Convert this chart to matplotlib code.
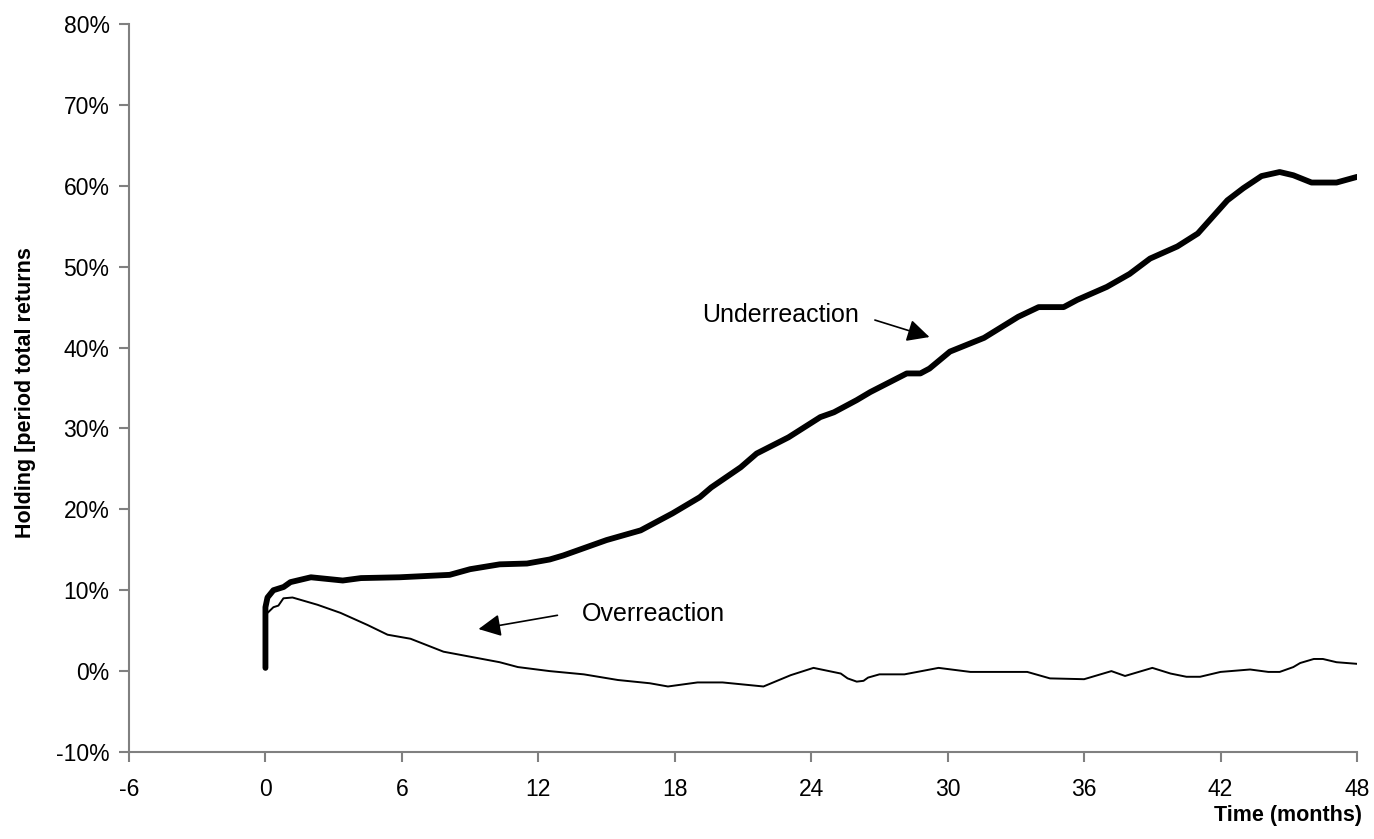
import matplotlib
matplotlib.use("Agg")
import matplotlib.pyplot as plt
import matplotlib.ticker as mticker

# --- dados (meses, retorno em %) ---
under_meses = [0.0, 0.0, 0.09, 0.35, 0.8, 1.1, 2.0, 2.7, 3.4, 4.2, 5.9, 8.1, 9.0,
               10.3, 11.5, 12.5, 13.1, 15.0, 16.5, 17.9, 19.1, 19.6, 20.9, 21.6,
               23.0, 24.4, 25.0, 26.0, 26.6, 28.2, 28.8, 29.2, 30.1, 31.6, 33.1,
               34.0, 35.1, 35.7, 37.0, 38.0, 38.9, 40.1, 41.0, 42.3, 43.0, 43.8,
               44.6, 45.2, 46.0, 47.1, 48.0]
under_ret = [0.4, 7.9, 9.1, 10.0, 10.4, 11.0, 11.6, 11.4, 11.2, 11.5, 11.6, 11.9, 12.6,
             13.2, 13.3, 13.8, 14.3, 16.2, 17.4, 19.5, 21.5, 22.7, 25.2, 26.9,
             28.9, 31.4, 32.0, 33.5, 34.5, 36.8, 36.8, 37.4, 39.5, 41.2, 43.8,
             45.0, 45.0, 45.9, 47.5, 49.1, 51.0, 52.5, 54.1, 58.2, 59.7, 61.2,
             61.7, 61.3, 60.4, 60.4, 61.1]

over_meses = [0.0, 0.0, 0.13, 0.35, 0.57, 0.79, 1.19, 2.29, 3.3, 4.49, 5.37, 6.38,
              7.83, 10.3, 11.1, 12.5, 14.0, 15.5, 16.9, 17.7, 19.0, 20.1, 21.9,
              23.1, 24.1, 25.3, 25.6, 26.0, 26.3, 26.5, 27.0, 28.1, 29.6, 31.0,
              33.5, 34.5, 36.0, 37.2, 37.8, 39.0, 39.8, 40.5, 41.1, 42.0, 43.3,
              44.1, 44.6, 45.2, 45.5, 46.1, 46.5, 47.1, 48.0]
over_ret = [0.4, 7.0, 7.3, 7.9, 8.1, 9.0, 9.1, 8.2, 7.2, 5.7, 4.5, 4.0,
            2.4, 1.1, 0.5, 0.0, -0.4, -1.1, -1.5, -1.9, -1.4, -1.4, -1.9,
            -0.5, 0.4, -0.3, -0.9, -1.3, -1.2, -0.8, -0.4, -0.4, 0.4, -0.1,
            -0.1, -0.9, -1.0, 0.0, -0.6, 0.4, -0.3, -0.7, -0.7, -0.1, 0.2,
            -0.1, -0.1, 0.5, 1.0, 1.5, 1.5, 1.1, 0.9]

x_ticks = [-6, 0, 6, 12, 18, 24, 30, 36, 42, 48]
y_ticks = [-10, 0, 10, 20, 30, 40, 50, 60, 70, 80]

plt.rcParams['font.family'] = ['Liberation Sans', 'DejaVu Sans']
plt.rcParams['axes.unicode_minus'] = False

fig = plt.figure(figsize=(13.74, 8.39), dpi=100)
ax = fig.add_axes([129 / 1374, 87 / 839, (1357 - 129) / 1374, (752 - 24) / 839])

ax.plot(under_meses, under_ret, color='black', lw=4.2, solid_capstyle='round',
        solid_joinstyle='round')
ax.plot(over_meses, over_ret, color='black', lw=1.4, solid_joinstyle='round')

ax.set_xlim(-6, 48)
ax.set_ylim(-10, 80)
ax.set_xticks(x_ticks)
ax.set_yticks(y_ticks)
ax.yaxis.set_major_formatter(mticker.FuncFormatter(lambda v, _: '{:.0f}%'.format(v)))

for lado in ['top', 'right']:
    ax.spines[lado].set_visible(False)
for lado in ['left', 'bottom']:
    ax.spines[lado].set_color('#808080')
    ax.spines[lado].set_linewidth(1.5)
ax.tick_params(axis='both', direction='out', length=7, width=1.5, color='#808080',
               labelsize=16.5)
ax.tick_params(axis='x', pad=12)
ax.tick_params(axis='y', pad=7)

# anotacoes com setas
ax.annotate('', xy=(29.2, 41.3), xytext=(26.8, 43.4),
            arrowprops=dict(arrowstyle='-|>', color='black', lw=1.2, mutation_scale=34,
                            shrinkA=0, shrinkB=0))
ax.text(26.1, 44.0, 'Underreaction', ha='right', va='center', fontsize=18)

ax.annotate('', xy=(9.37, 5.2), xytext=(12.84, 6.9),
            arrowprops=dict(arrowstyle='-|>', color='black', lw=1.2, mutation_scale=34,
                            shrinkA=0, shrinkB=0))
ax.text(13.9, 7.0, 'Overreaction', ha='left', va='center', fontsize=18)

fig.text(1362 / 1374, 1 - 815 / 839, 'Time (months)', ha='right', va='center',
         fontsize=15.5, fontweight='bold')
fig.text(26 / 1374, 1 - 393 / 839, 'Holding [period total returns', rotation=90,
         ha='center', va='center', fontsize=15.5, fontweight='bold',
         family=['Liberation Sans Narrow', 'Liberation Sans', 'DejaVu Sans'])

fig.savefig('out.png', dpi=100)
plt.close(fig)
